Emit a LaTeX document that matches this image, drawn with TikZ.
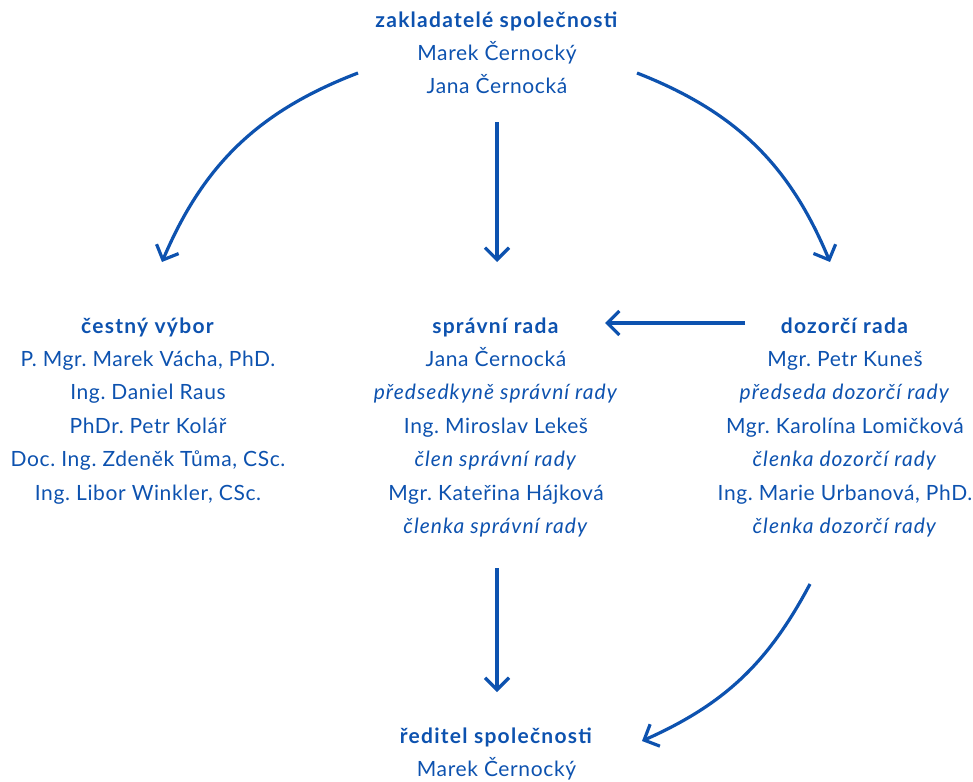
\documentclass[tikz,border=0pt]{standalone}
\usepackage{fontspec}
\setmainfont{Lato}[LetterSpace=3,
  BoldFeatures={LetterSpace=6},
  ItalicFeatures={LetterSpace=5}]
\usetikzlibrary{arrows.meta}
\definecolor{nfblue}{HTML}{0D52AF}
\tikzset{
  blk/.style={anchor=north, inner sep=0pt, align=center, text=nfblue,
    font=\fontsize{21}{33.4}\selectfont},
  arr/.style={draw=nfblue, line width=3.2pt,
    -{Straight Barb[length=12pt,width=24pt]}},
}
\def\hd#1{\strut\textbf{#1}}
\def\fn#1{\textit{#1}}
\frenchspacing

\begin{document}
\begin{tikzpicture}[x=1pt,y=-1pt]
	%%%%% START %%%%%
	\useasboundingbox (0,0) rectangle (973,781);
	
	\node[blk] (founders) at (497, 3.6) {\hd{zakladatelé společnosti}\\Marek Černocký\\Jana Černocká};
	
	\node[blk] (honor) at (148, 309.6) {\hd{čestný výbor}\\P. Mgr. Marek Vácha, PhD.\\Ing. Daniel Raus\\PhDr. Petr Kolář\\Doc. Ing. Zdeněk Tůma, CSc.\\Ing. Libor Winkler, CSc.};
	
	\node[blk] (board) at (496, 309.6) {\hd{správní rada}\\Jana Černocká\\\fn{předsedkyně správní rady}\\Ing. Miroslav Lekeš\\\fn{člen správní rady}\\Mgr. Kateřina Hájková\\\fn{členka správní rady}};
	
	\node[blk] (supervisory) at (845, 309.6) {\hd{dozorčí rada}\\Mgr. Petr Kuneš\\\fn{předseda dozorčí rady}\\Mgr. Karolína Lomičková\\\fn{členka dozorčí rady}\\Ing. Marie Urbanová, PhD.\\\fn{členka dozorčí rady}};
	
	\node[blk] (director) at (496.5, 719.6) {\hd{ředitel společnosti}\\Marek Černocký};
	
	% arrow ends
	\coordinate (f-l) at (358, 73);
	\coordinate (f-m) at (497, 122);
	\coordinate (f-r) at (637, 73);
	\coordinate (h-in) at (162, 262);
	\coordinate (b-in) at (497, 262);
	\coordinate (s-in) at (830, 262);
	\coordinate (s-out) at (745, 323);
	\coordinate (b-side) at (605, 323);
	\coordinate (b-out) at (497, 568);
	\coordinate (s-low) at (810, 584);
	\coordinate (d-top) at (497, 692);
	\coordinate (d-side) at (642, 741);
	
	\draw[arr] (f-l) to[bend right=23] (h-in);
	\draw[arr] (f-m) -- (b-in);
	\draw[arr] (f-r) to[bend left=23] (s-in);
	\draw[arr] (s-out) -- (b-side);
	\draw[arr] (b-out) -- (d-top);
	\draw[arr] (s-low) to[bend left=19] (d-side);
	%%%%% END %%%%%
\end{tikzpicture}
\end{document}
